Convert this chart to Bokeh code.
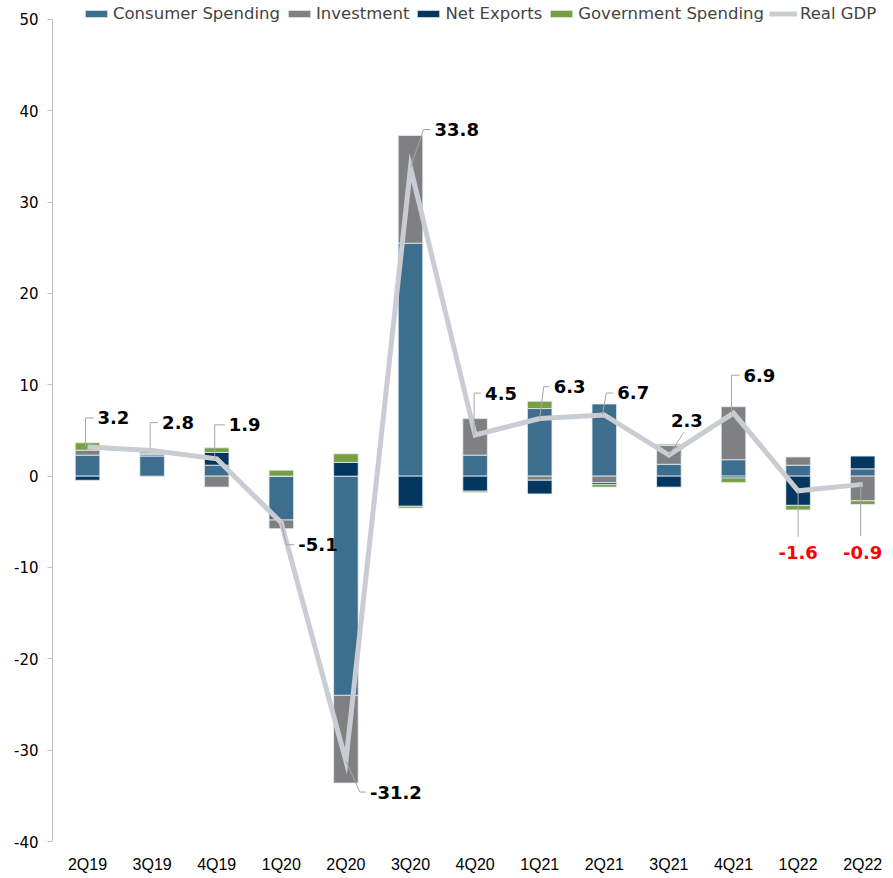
from bokeh.plotting import figure
from bokeh.models import ColumnDataSource, Range1d, FixedTicker, Legend, LegendItem
from bokeh.core.properties import value
from bokeh.embed import file_html
from bokeh.resources import INLINE

# ---- data ----
quarters = ["2Q19", "3Q19", "4Q19", "1Q20", "2Q20", "3Q20", "4Q20",
            "1Q21", "2Q21", "3Q21", "4Q21", "1Q22", "2Q22"]
consumer = [2.3, 2.2, 1.2, -4.8, -24.0, 25.5, 2.3, 7.4, 7.9, 1.3, 1.8, 1.2, 0.8]
investment = [0.55, 0.2, -1.2, -0.95, -9.6, 11.8, 4.0, -0.45, -0.7, 2.05, 5.8, 0.9, -2.7]
net_exports = [-0.45, 0.1, 1.4, 0.0, 1.5, -3.3, -1.65, -1.5, -0.2, -1.2, -0.2, -3.2, 1.4]
government = [0.8, 0.3, 0.5, 0.65, 0.95, -0.2, -0.15, 0.8, -0.3, 0.15, -0.5, -0.5, -0.4]
real_gdp = [3.2, 2.8, 1.9, -5.1, -31.2, 33.8, 4.5, 6.3, 6.7, 2.3, 6.9, -1.6, -0.9]
gdp_labels = ["3.2", "2.8", "1.9", "-5.1", "-31.2", "33.8", "4.5",
              "6.3", "6.7", "2.3", "6.9", "-1.6", "-0.9"]
y_ticks = [-40, -30, -20, -10, 0, 10, 20, 30, 40, 50]
y_tick_labels = ["-40", "-30", "-20", "-10", "0", "10", "20", "30", "40", "50"]

series_names = ["Consumer Spending", "Investment", "Net Exports", "Government Spending"]
series_vals = [consumer, investment, net_exports, government]
series_colors = ["#3D6E8E", "#808083", "#033760", "#77A044"]

# ---- layout / style ----
W, H = 885, 875
BL, BR, BT, BB = 52, 0, 0, 32
FW = W - BL - BR
FH = H - BT - BB
YMIN, YAX = -40, 50
TOP_PAD_PX = 19                      # room above the 50 tick for the legend
PY = (FH - TOP_PAD_PX) / (YAX - YMIN)  # px per y unit
YMAX = YAX + TOP_PAD_PX / PY
XMIN, XMAX = -0.542, 12.353
UX = (XMAX - XMIN) / FW   # data units per px (x)
UY = 1.0 / PY             # data units per px (y)

# label placement in px relative to the GDP point (screen y downward)
lab_dx = [10, 10, 12, 17, 24, 24, 10, 14, 13, 2, 10, 0, 0]
lab_dy = [-29, -28, -34, 22, 31, -38, -42, -32, -22, -35, -38, 62, 68]
lab_align = ["left"] * 11 + ["center", "center"]
lab_color = ["black"] * 11 + ["#FF0000", "#FF0000"]
leaders = [
    [(-2, 0), (-2, -29), (6, -29)],
    [(-2, -2), (-2, -28), (6, -28)],
    [(-2, 0), (-2, -34), (8, -34)],
    [(0, 0), (5, 22), (13, 22)],
    [(0, 0), (14, 31), (20, 31)],
    [(0, 0), (13, -38), (20, -38)],
    [(-1, 0), (-1, -42), (6, -42)],
    [(0, 0), (4, -32), (10, -32)],
    [(-2, 0), (2, -22), (9, -22)],
    [(0, 0), (15, -23)],
    [(-2, 0), (-2, -38), (6, -38)],
    [(0, 0), (0, 46)],
    [(-2, 0), (-2, 52)],
]

p = figure(width=W, height=H, output_backend="svg", toolbar_location=None,
           x_range=Range1d(XMIN, XMAX), y_range=Range1d(YMIN, YMAX),
           min_border_left=BL, min_border_right=BR, min_border_top=BT,
           min_border_bottom=BB)
p.outline_line_color = None
p.xgrid.grid_line_color = None
p.ygrid.grid_line_color = None
p.background_fill_color = "white"

xs = list(range(len(quarters)))

# stacked bars: positives and negatives stacked separately (Excel-style)
pos_acc = [0.0] * len(xs)
neg_acc = [0.0] * len(xs)
legend_items = []
for name, vals, col in zip(series_names, series_vals, series_colors):
    bottoms, tops = [], []
    for i, v in enumerate(vals):
        if v >= 0:
            bottoms.append(pos_acc[i]); tops.append(pos_acc[i] + v); pos_acc[i] += v
        else:
            tops.append(neg_acc[i]); bottoms.append(neg_acc[i] + v); neg_acc[i] += v
    src = ColumnDataSource(dict(x=xs, bottom=bottoms, top=tops))
    r = p.vbar(x="x", bottom="bottom", top="top", width=0.38, source=src,
               fill_color=col, line_color="#E6ECF2", line_width=0.8)
    legend_items.append(LegendItem(label=name, renderers=[r]))

# Real GDP line
gdp_src = ColumnDataSource(dict(x=xs, y=real_gdp))
lr = p.line(x="x", y="y", source=gdp_src, line_color="#C9CCD3", line_width=5,
            line_join="miter")
legend_items.append(LegendItem(label="Real GDP", renderers=[lr]))

# leader lines
lx, ly = [], []
for i, pts in enumerate(leaders):
    lx.append([xs[i] + dx * UX for dx, dy in pts])
    ly.append([real_gdp[i] - dy * UY for dx, dy in pts])
p.multi_line(xs=lx, ys=ly, line_color="#A6A6A6", line_width=1)

# labels
for i in range(len(xs)):
    p.text(x=[xs[i]], y=[real_gdp[i]], text=[gdp_labels[i]],
           x_offset=lab_dx[i], y_offset=lab_dy[i],
           text_align=lab_align[i], text_baseline="middle",
           text_font=value("DejaVu Sans"), text_font_style="bold",
           text_font_size="18px", text_color=lab_color[i])

# axes
p.yaxis.ticker = FixedTicker(ticks=y_ticks)
p.yaxis.bounds = (YMIN, YAX)
p.yaxis.major_label_overrides = {t: s for t, s in zip(y_ticks, y_tick_labels)}
p.yaxis.axis_line_color = "#BFBFBF"
p.yaxis.major_tick_line_color = "#BFBFBF"
p.yaxis.major_tick_out = 5
p.yaxis.major_tick_in = 0
p.yaxis.minor_tick_line_color = None
p.yaxis.major_label_standoff = 9
p.yaxis.major_label_text_font = "DejaVu Sans"
p.yaxis.major_label_text_font_size = "15px"
p.yaxis.major_label_text_color = "#000000"

p.xaxis.ticker = FixedTicker(ticks=xs)
p.xaxis.major_label_overrides = {i: q for i, q in enumerate(quarters)}
p.xaxis.axis_line_color = None
p.xaxis.major_tick_line_color = None
p.xaxis.minor_tick_line_color = None
p.xaxis.major_label_standoff = 8
p.xaxis.major_label_text_font = "Liberation Sans"
p.xaxis.major_label_text_font_size = "16px"
p.xaxis.major_label_text_color = "#000000"

legend = Legend(items=legend_items, orientation="horizontal",
                location=(30, FH - 25), glyph_width=28, glyph_height=9,
                label_height=20, label_standoff=3, spacing=5, padding=0,
                margin=0, label_text_font="DejaVu Sans",
                label_text_font_size="16.5px", background_fill_alpha=0,
                border_line_alpha=0)
p.add_layout(legend, "center")

open("out.html", "w").write(file_html(p, INLINE))
